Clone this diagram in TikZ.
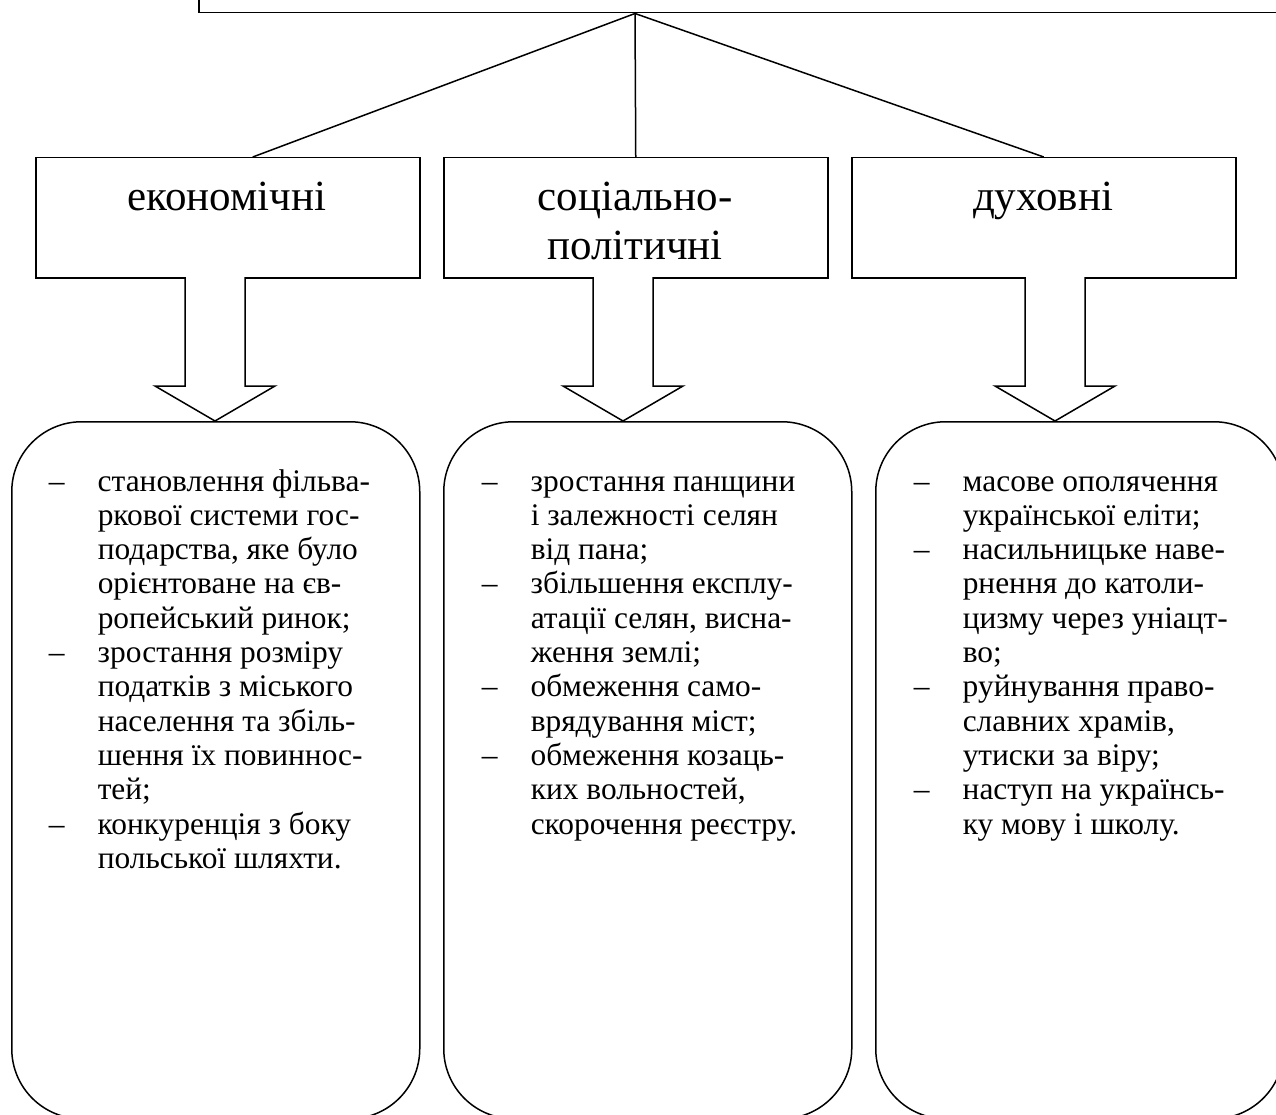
\documentclass[tikz,border=0pt]{standalone}
\usepackage{fontspec}
\setmainfont{Liberation Serif}
\usetikzlibrary{calc}
\newcommand{\dsh}{\leavevmode\llap{\makebox[49pt][l]{–}}}
\begin{document}
\begin{tikzpicture}[x=1pt,y=-1pt,line width=1.5pt,
  topbox/.style={draw,rectangle,minimum width=1100pt,minimum height=100pt,inner sep=0pt,anchor=south west},
  catbox/.style={draw,rectangle,minimum width=384pt,minimum height=120pt,inner sep=0pt,anchor=north west},
  listbox/.style={draw,rectangle,rounded corners=70pt,minimum width=408pt,minimum height=697pt,inner sep=0pt,anchor=north west},
  cattext/.style={anchor=base,inner sep=0pt,font=\fontsize{43}{49}\selectfont},
  listtext/.style={anchor=base west,inner sep=0pt,font=\fontsize{31.4}{34.3}\selectfont},
  blockarrow/.style={draw,fill=white,line join=miter}]
\useasboundingbox (0,0) rectangle (1276,1115);
\clip (0,0) rectangle (1276,1115);
% top box
\node[topbox] (top) at (198,13.5) {};
\coordinate (hub) at (635,13.5);
% category boxes
\node[catbox] (econ) at (35,157) {};
\node[catbox] (soc) at (443,157) {};
\node[catbox] (spir) at (851,157) {};
\node[cattext] (econt) at (227,211) {економічні};
\node[cattext] (soct) at (635,211) {\begin{tabular}[t]{@{}c@{}}соціально-\\політичні\end{tabular}};
\node[cattext] (spirt) at (1043,211) {духовні};
% connectors
\draw (hub) -- ($(econ.north)+(25,0)$);
\draw (hub) -- (soc.north);
\draw (hub) -- (spir.north);
% list boxes
\node[listbox] (l1) at (11,421) {};
\node[listbox] (l2) at (443,421) {};
\node[listbox] (l3) at (875,421) {};
% block arrows
\foreach \c in {215, 623, 1055}{
  \draw[blockarrow] (\c-30,277) -- (\c-30,386) -- (\c-60,386) -- (\c,421) -- (\c+60,386) -- (\c+30,386) -- (\c+30,277);
}
% list texts
\node[listtext] (t1) at (97,491) {\parbox[t]{320pt}{%
\dsh становлення фільва-\\
ркової системи гос-\\
подарства, яке було\\
орієнтоване на єв-\\
ропейський ринок;\\
\dsh зростання розміру\\
податків з міського\\
населення та збіль-\\
шення їх повиннос-\\
тей;\\
\dsh конкуренція з боку\\
польської шляхти.}};
\node[listtext] (t2) at (530,491) {\parbox[t]{320pt}{%
\dsh зростання панщини\\
і залежності селян\\
від пана;\\
\dsh збільшення експлу-\\
атації селян, висна-\\
ження землі;\\
\dsh обмеження само-\\
врядування міст;\\
\dsh обмеження козаць-\\
ких вольностей,\\
скорочення реєстру.}};
\node[listtext] (t3) at (962,491) {\parbox[t]{320pt}{%
\dsh масове ополячення\\
української еліти;\\
\dsh насильницьке наве-\\
рнення до католи-\\
цизму через уніацт-\\
во;\\
\dsh руйнування право-\\
славних храмів,\\
утиски за віру;\\
\dsh наступ на українсь-\\
ку мову і школу.}};
\end{tikzpicture}
\end{document}
